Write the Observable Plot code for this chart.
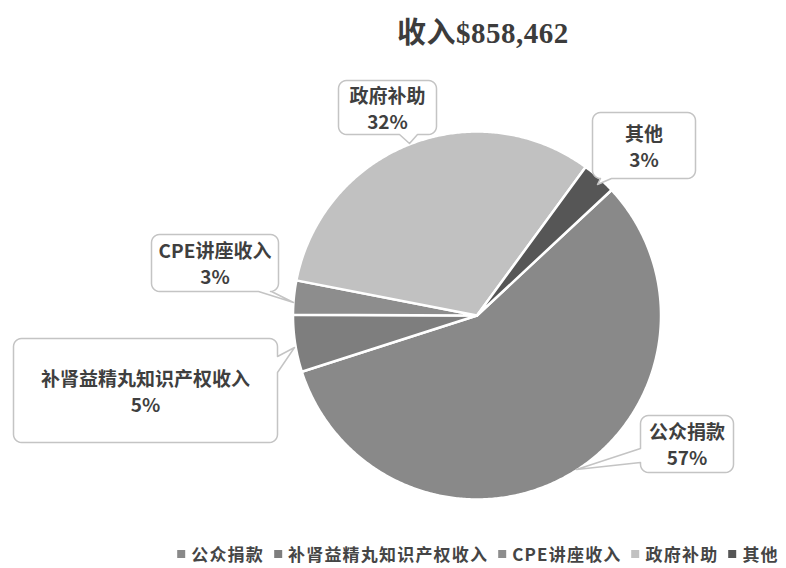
<!DOCTYPE html>
<html>
<head>
<meta charset="utf-8">
<script src="https://cdn.jsdelivr.net/npm/d3@7"></script>
<script src="https://cdn.jsdelivr.net/npm/@observablehq/plot@0.6"></script>
<style>
  html, body { margin: 0; padding: 0; background: #fff; }
  body { width: 786px; height: 568px; overflow: hidden; position: relative; font-family: "Noto Sans CJK SC", sans-serif; }
  #title { position: absolute; top: 16px; left: 483px; transform: translateX(-50%); white-space: nowrap;
           font-family: "Liberation Serif", "Noto Sans CJK SC", serif; font-weight: bold; font-size: 29px; line-height: 34px; color: #3c3c3c; letter-spacing: 0.5px; }
  #chart { position: absolute; top: 60px; left: 0; }
  #legend { position: absolute; top: 541px; left: 478px; transform: translateX(-50%); display: flex; align-items: center; white-space: nowrap;
            font-size: 17px; font-weight: bold; color: #454545; letter-spacing: 1.2px; line-height: 26px; }
  #legend .item { display: flex; align-items: center; margin: 0 5px; }
  #legend .sw { width: 8px; height: 8px; margin-right: 6px; }
</style>
</head>
<body>
<div id="title"></div>
<div id="chart"></div>
<div id="legend"></div>
<script>
// ---- data ----
const totalIncome = 858462;
const categories = ["公众捐款", "补肾益精丸知识产权收入", "CPE讲座收入", "政府补助", "其他"];
const shares = [57, 5, 3, 32, 3]; // percent
const colors = ["#898989", "#7e7e7e", "#8d8d8d", "#c1c1c1", "#565656"];

// ---- layout ----
const pieLayout = { cx: 476.5, cy: 315, r: 184, startDeg: 47 };
const calloutLayout = [
  { cat: "公众捐款", x0: 640, x1: 733, y0: 415, y1: 472, side: "left", a: 448, b: 462, tip: [576, 469] },
  { cat: "补肾益精丸知识产权收入", x0: 13, x1: 277, y0: 338, y1: 442, side: "right", a: 356, b: 372, tip: [294, 347] },
  { cat: "CPE讲座收入", x0: 151, x1: 278, y0: 234, y1: 291, side: "bottom", a: 258, b: 271, tip: [293, 302] },
  { cat: "政府补助", x0: 338, x1: 436, y0: 80, y1: 134, side: "bottom", a: 399, b: 417, tip: [409, 143] },
  { cat: "其他", x0: 592, x1: 695, y0: 112, y1: 178, side: "bottom", a: 600, b: 611, tip: [597, 184] }
];

document.getElementById("title").textContent = "收入$" + d3.format(",")(totalIncome);

const rows = categories.map((c, i) => ({ cat: c, share: shares[i] }));
const start = pieLayout.startDeg * Math.PI / 180;
const arcs = d3.pie().sort(null).value(d => d.share).startAngle(start).endAngle(start + 2 * Math.PI)(rows);

const piePts = arcs.flatMap(a => {
  const pts = [{ cat: a.data.cat, x: pieLayout.cx, y: pieLayout.cy }];
  const n = Math.max(2, Math.ceil((a.endAngle - a.startAngle) / (Math.PI / 360)));
  for (let i = 0; i <= n; i++) {
    const t = a.startAngle + (a.endAngle - a.startAngle) * i / n;
    pts.push({ cat: a.data.cat, x: pieLayout.cx + pieLayout.r * Math.sin(t), y: pieLayout.cy - pieLayout.r * Math.cos(t) });
  }
  return pts;
});

function calloutPolygon(c, rad = 8) {
  const pts = [];
  const P = (x, y) => pts.push({ cat: c.cat, x, y });
  const corner = (cx, cy, a0) => { for (let k = 0; k <= 6; k++) { const t = (a0 + 90 * k / 6) * Math.PI / 180; P(cx + rad * Math.cos(t), cy + rad * Math.sin(t)); } };
  const tip = () => P(c.tip[0], c.tip[1]);
  P(c.x0 + rad, c.y0);
  if (c.side === "top") { P(c.a, c.y0); tip(); P(c.b, c.y0); }
  corner(c.x1 - rad, c.y0 + rad, -90);
  if (c.side === "right") { P(c.x1, c.a); tip(); P(c.x1, c.b); }
  corner(c.x1 - rad, c.y1 - rad, 0);
  if (c.side === "bottom") { P(c.b, c.y1); tip(); P(c.a, c.y1); }
  corner(c.x0 + rad, c.y1 - rad, 90);
  if (c.side === "left") { P(c.x0, c.b); tip(); P(c.x0, c.a); }
  corner(c.x0 + rad, c.y0 + rad, 180);
  return pts;
}
const calloutPts = calloutLayout.flatMap(c => calloutPolygon(c));
const labels = calloutLayout.map(c => {
  const i = categories.indexOf(c.cat);
  return { x: (c.x0 + c.x1) / 2, y: (c.y0 + c.y1) / 2, text: categories[i] + "\n" + shares[i] + "%" };
});

const chart = Plot.plot({
  width: 786,
  height: 480,
  margin: 0,
  x: { domain: [0, 786], range: [0, 786], axis: null },
  y: { domain: [60, 540], range: [0, 480], axis: null },
  color: { domain: categories, range: colors },
  style: { fontFamily: "'Noto Sans CJK SC', sans-serif", background: "white" },
  marks: [
    Plot.line(piePts, { x: "x", y: "y", z: "cat", fill: "cat", stroke: "white", strokeWidth: 2.5, curve: "linear-closed" }),
    Plot.line(calloutPts, { x: "x", y: "y", z: "cat", fill: "white", stroke: "#c4c4c4", strokeWidth: 1.5, curve: "linear-closed" }),
    Plot.text(labels, { x: "x", y: "y", text: "text", fontSize: 19, fontWeight: "bold", fill: "#3f3f3f", lineHeight: 1.35, lineAnchor: "middle" })
  ]
});
document.getElementById("chart").appendChild(chart);

const legend = document.getElementById("legend");
categories.forEach((c, i) => {
  const item = document.createElement("div");
  item.className = "item";
  const sw = document.createElement("span");
  sw.className = "sw";
  sw.style.background = colors[i];
  const tx = document.createElement("span");
  tx.textContent = c;
  item.appendChild(sw);
  item.appendChild(tx);
  legend.appendChild(item);
});
</script>
</body>
</html>
